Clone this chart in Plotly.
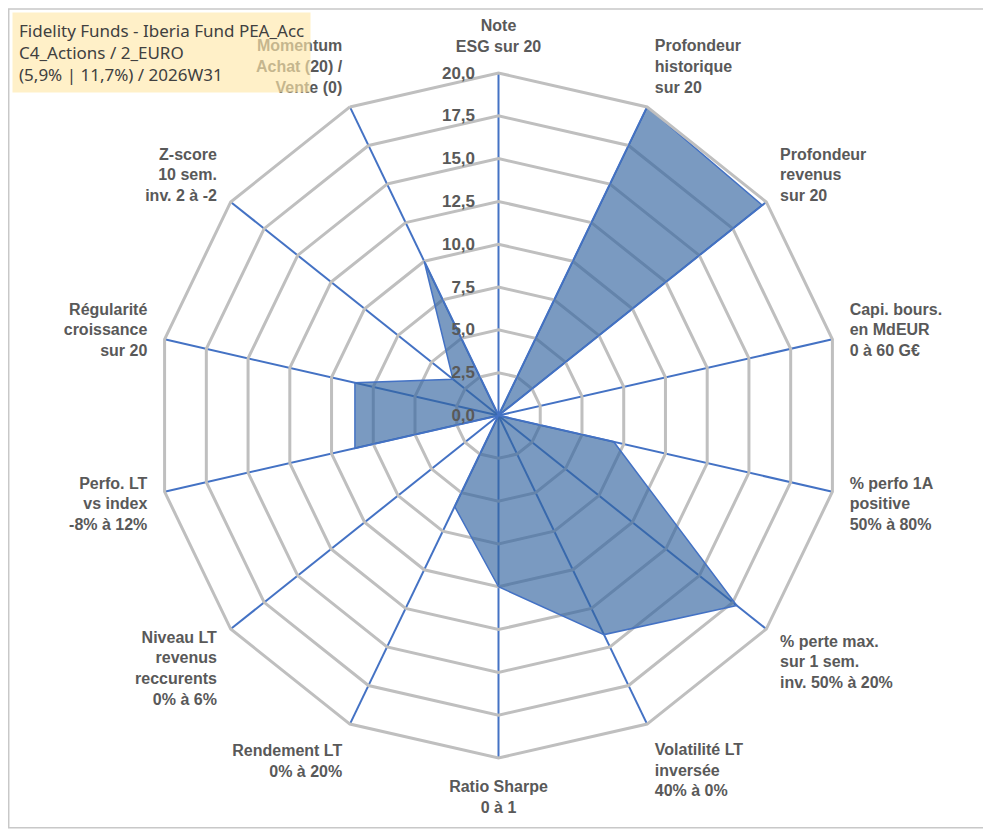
import plotly.graph_objects as go

# axes du radar (ordre horaire depuis le haut)
categories = [
    "Note<br>ESG sur 20",
    "Profondeur<br>historique<br>sur 20",
    "Profondeur<br>revenus<br>sur 20",
    "Capi. bours.<br>en MdEUR<br>0 à 60 G€",
    "% perfo 1A<br>positive<br>50% à 80%",
    "% perte max.<br>sur 1 sem.<br>inv. 50% à 20%",
    "Volatilité LT<br>inversée<br>40% à 0%",
    "Ratio Sharpe<br>0 à 1",
    "Rendement LT<br>0% à 20%",
    "Niveau LT<br>revenus<br>reccurents<br>0% à 6%",
    "Perfo. LT<br>vs index<br>-8% à 12%",
    "Régularité<br>croissance<br>sur 20",
    "Z-score<br>10 sem.<br>inv. 2 à -2",
    "Momentum<br>Achat (20) /<br>Vente (0)",
]
notes = [0, 20, 19.7, 0, 6.9, 17.8, 14.2, 10.0, 5.9, 0, 8.6, 8.6, 3.4, 10.0]

radial_ticks = [0, 2.5, 5, 7.5, 10, 12.5, 15, 17.5, 20]

titre = "Fidelity Funds - Iberia Fund PEA_Acc<br>C4_Actions / 2_EURO<br>(5,9% | 11,7%) / 2026W31"

GRIS = "#595959"
BLEU = "#4472C4"

fig = go.Figure()

# polygone ferme
fig.add_trace(go.Scatterpolar(
    r=notes + notes[:1],
    theta=categories + categories[:1],
    mode="lines",
    fill="toself",
    fillcolor="rgba(50,100,160,0.65)",
    line=dict(color=BLEU, width=1.5),
    subplot="polar2",
    hoverinfo="skip",
    showlegend=False,
))

dom = dict(x=[0, 1], y=[0, 1])

fig.update_layout(
    width=991,
    height=830,
    margin=dict(l=148, r=158, t=65, b=80),
    paper_bgcolor="white",
    separators=", ",
    font=dict(family="Liberation Sans", color=GRIS),
    # fond : grille secondaire tous les 1,25
    polar=dict(
        domain=dom,
        bgcolor="white",
        gridshape="linear",
        radialaxis=dict(range=[0, 20], dtick=1.25, showticklabels=False,
                        showline=False, ticks="", gridcolor="#EDEDED",
                        gridwidth=1.2),
        angularaxis=dict(categoryarray=categories, type="category",
                         rotation=90, direction="clockwise",
                         showgrid=False, showticklabels=False,
                         showline=False, ticks=""),
    ),
    polar2=dict(
        domain=dom,
        bgcolor="rgba(0,0,0,0)",
        gridshape="linear",
        radialaxis=dict(
            range=[0, 20],
            tickvals=radial_ticks,
            tickformat=".1f",
            angle=90,
            tickangle=90,
            side="counterclockwise",
            showline=False,
            ticks="outside",
            ticklen=17,
            tickcolor="rgba(0,0,0,0)",
            gridcolor="#BFBFBF",
            gridwidth=3,
            tickfont=dict(size=17, color=GRIS, weight="bold"),
        ),
        angularaxis=dict(
            type="category",
            categoryarray=categories,
            rotation=90,
            direction="clockwise",
            gridcolor=BLEU,
            gridwidth=1.5,
            linecolor="#BFBFBF",
            linewidth=3,
            showline=True,
            ticks="outside",
            ticklen=13,
            tickcolor="rgba(0,0,0,0)",
            tickfont=dict(size=16, color=GRIS, weight="bold"),
        ),
    ),
    annotations=[dict(
        text=titre,
        xref="paper", yref="paper",
        x=-0.210, y=1.089,
        xanchor="left", yanchor="top",
        align="left",
        showarrow=False,
        font=dict(family="Noto Sans", size=17, color="#404040"),
        bgcolor="rgba(255,232,170,0.65)",
        borderpad=6,
    )],
    shapes=[dict(
        type="rect", xref="paper", yref="paper",
        x0=-0.215, x1=1.216, y0=-0.102, y1=1.0935,
        line=dict(color="#C8C8C8", width=1.5),
    )],
)

fig.write_html("out.html")
